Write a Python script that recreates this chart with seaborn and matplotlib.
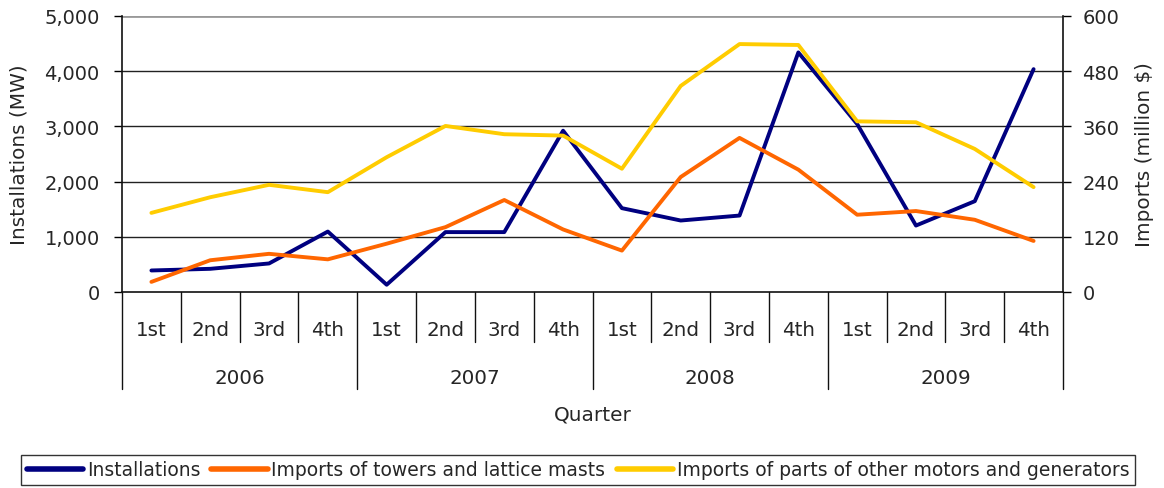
import matplotlib
matplotlib.use("Agg")
import matplotlib.pyplot as plt
import seaborn as sns
import pandas as pd
from matplotlib.ticker import FuncFormatter

years = ["2006", "2007", "2008", "2009"]
quarters = ["1st", "2nd", "3rd", "4th"]
installations = [390, 420, 517, 1095, 132, 1085, 1085, 2922,
                 1519, 1295, 1385, 4340, 3043, 1204, 1645, 4037]
towers = [22, 69, 83, 71, 105, 141, 200, 136,
          90, 250, 335, 266, 168, 176, 157, 111]
motors = [172, 206, 233, 217, 293, 361, 343, 340,
          268, 448, 539, 537, 371, 369, 311, 228]

names = ["Installations", "Imports of towers and lattice masts",
         "Imports of parts of other motors and generators"]
colors = ["#000080", "#FF6600", "#FFCC00"]

n = len(installations)
idx = list(range(n))
df_left = pd.DataFrame({"x": idx, "y": installations, "series": names[0]})
df_right = pd.concat([
    pd.DataFrame({"x": idx, "y": towers, "series": names[1]}),
    pd.DataFrame({"x": idx, "y": motors, "series": names[2]}),
])

sns.set_style("white")
plt.rcParams["font.family"] = ["DejaVu Sans"]

FS_TICK = 14
FS_CAT = 14.3
FS_LAB = 14.4
FS_LEG = 13.5

fig = plt.figure(figsize=(11.64, 4.89), dpi=100)
ax = fig.add_axes([122/1164, 1-293/489, (1063-122)/1164, (293-17)/489])
ax2 = ax.twinx()

sns.lineplot(data=df_left, x="x", y="y", hue="series", palette=[colors[0]],
             ax=ax, linewidth=2.8, legend=False)
sns.lineplot(data=df_right, x="x", y="y", hue="series", palette=colors[1:],
             ax=ax2, linewidth=2.8, legend=False)

ax.set_xlim(-0.5, n - 0.5)
ax.set_ylim(0, 5000)
ax2.set_ylim(0, 600)
ax.set_yticks([0, 1000, 2000, 3000, 4000, 5000])
ax2.set_yticks([0, 120, 240, 360, 480, 600])
ax.yaxis.set_major_formatter(FuncFormatter(lambda v, p: f"{int(v):,}"))

for a in (ax, ax2):
    for s in a.spines.values():
        s.set_visible(False)
for y in [1000, 2000, 3000, 4000]:
    ax.axhline(y, color="#222222", lw=1.0, zorder=0)
ax.axhline(5000, color="#999999", lw=2.0, zorder=0)
ax.spines["left"].set_visible(True)
ax.spines["left"].set_color("#111111")
ax.spines["left"].set_linewidth(1.2)
ax.spines["bottom"].set_visible(True)
ax.spines["bottom"].set_color("#111111")
ax.spines["bottom"].set_linewidth(1.2)
ax2.spines["right"].set_visible(True)
ax2.spines["right"].set_color("#111111")
ax2.spines["right"].set_linewidth(1.2)

ax.tick_params(axis="y", direction="out", length=6, width=1.0, color="black",
               labelsize=FS_TICK, pad=10, left=True)
ax2.tick_params(axis="y", direction="out", length=6, width=1.0, color="black",
                labelsize=FS_TICK, pad=8, right=True)
ax.set_xticks([])
ax.set_xlabel("")
ax2.set_xlabel("")
ax.set_ylabel("Installations (MW)", fontsize=FS_LAB)
ax2.set_ylabel("Imports (million $)", fontsize=FS_LAB)
ax.yaxis.set_label_coords(-93/941, 0.5)
ax2.yaxis.set_label_coords(1 + 72/941, 0.5)

# multi-level category axis
H = 276.0
tr = ax.get_xaxis_transform()
for i in range(n):
    ax.text(i, -37/H, quarters[i % 4], transform=tr, ha="center", va="center",
            fontsize=FS_CAT)
for k in range(n + 1):
    depth = 97 if k % 4 == 0 else 50
    ax.plot([k - 0.5, k - 0.5], [0, -depth/H], transform=tr, color="#111111",
            lw=1.0, clip_on=False)
for j, yr in enumerate(years):
    ax.text(4*j + 1.5, -85/H, yr, transform=tr, ha="center", va="center",
            fontsize=FS_CAT)
ax.text((n - 1)/2, -122/H, "Quarter", transform=tr, ha="center", va="center",
        fontsize=FS_LAB)

handles = [plt.Line2D([], [], color=c, lw=4.0) for c in colors]
leg = fig.legend(handles, names, loc="center", bbox_to_anchor=(578/1164, 1-471/489),
                 ncol=3, frameon=True, fancybox=False, fontsize=FS_LEG,
                 handlelength=3.0, handletextpad=0.2, columnspacing=0.6,
                 borderpad=0.3, edgecolor="black")
leg.get_frame().set_linewidth(1.0)

fig.savefig("out.png", dpi=100)
